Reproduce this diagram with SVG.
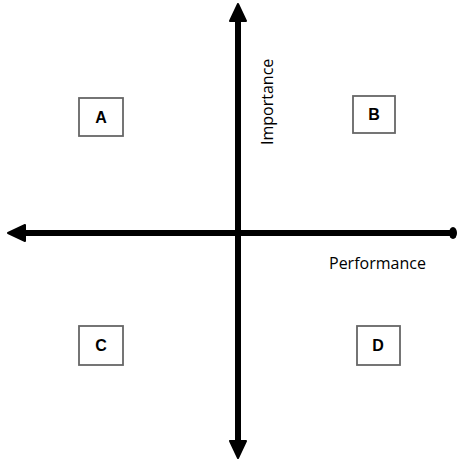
<svg xmlns="http://www.w3.org/2000/svg" width="457" height="460" viewBox="0 0 457 460">
<style>
.axis{stroke:#000;stroke-width:6;fill:none}
.box{fill:#fff;stroke:#666;stroke-width:1.8}
.lbl{font-family:"Liberation Sans",Arial,sans-serif;font-weight:bold;font-size:16px;fill:#000;text-anchor:middle}
.ax{font-family:"Open Sans","DejaVu Sans",sans-serif;font-size:16px;fill:#000}
</style>
<rect width="457" height="460" fill="#fff"/>
<g id="connectors">
<line class="axis" x1="238" y1="16" x2="238" y2="446"/>
<polygon points="238,4 230,21 246,21" fill="#000" stroke="#000" stroke-width="2" stroke-linejoin="round"/>
<polygon points="238,458 230,441 246,441" fill="#000" stroke="#000" stroke-width="2" stroke-linejoin="round"/>
<line class="axis" x1="20" y1="233" x2="452" y2="233"/>
<polygon points="8,233 25,225 25,241" fill="#000" stroke="#000" stroke-width="2" stroke-linejoin="round"/>
<ellipse cx="453" cy="233" rx="4" ry="6" fill="#000"/>
</g>
<g id="importance"><text class="ax" transform="translate(273,145) rotate(-90)">Importance</text></g>
<g id="performance"><text class="ax" x="329" y="269">Performance</text></g>
<g id="A"><rect class="box" x="79" y="98" width="44" height="38"/><text class="lbl" x="101" y="123">A</text></g>
<g id="B"><rect class="box" x="353" y="96" width="42" height="37"/><text class="lbl" x="374" y="120">B</text></g>
<g id="C"><rect class="box" x="79" y="326" width="44" height="39"/><text class="lbl" x="101" y="351">C</text></g>
<g id="D"><rect class="box" x="357" y="326" width="43" height="39"/><text class="lbl" x="378" y="351">D</text></g>
</svg>
